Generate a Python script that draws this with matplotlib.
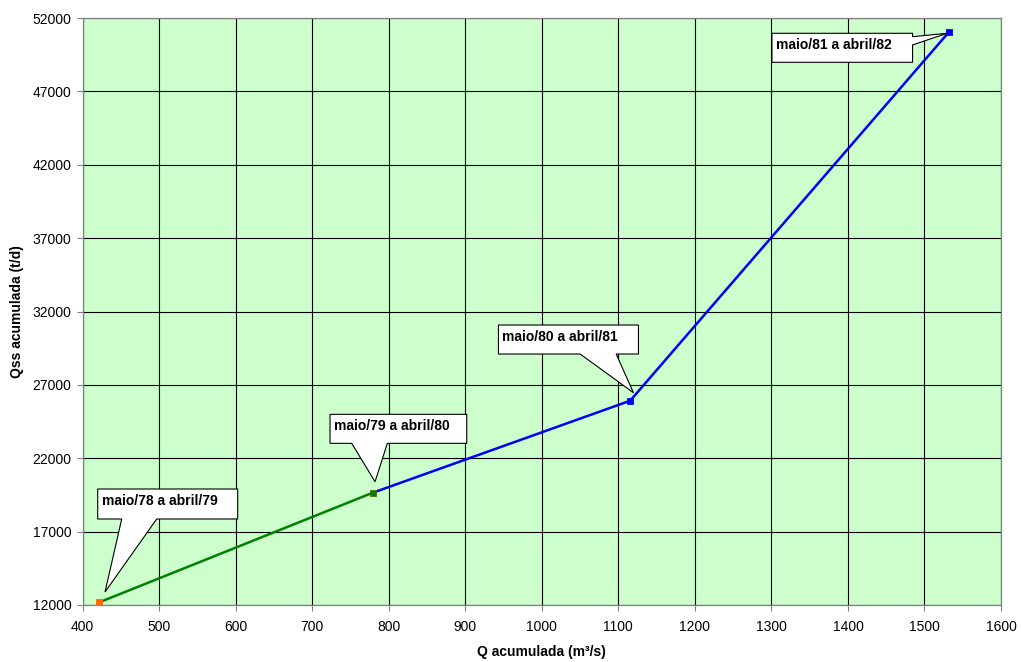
import matplotlib.pyplot as plt
import numpy as np
from matplotlib.patches import Polygon

plt.rcParams['font.family'] = ['Liberation Sans', 'DejaVu Sans']

# dados
q_acum = [421.7, 779, 1115.4, 1532]
qss_acum = [12184, 19650, 25920, 51046]
periodos = ["maio/78 a abril/79", "maio/79 a abril/80",
            "maio/80 a abril/81", "maio/81 a abril/82"]
cores_marcador = ["#FF6600", "#008000", "#0000FF", "#0000FF"]
cores_linha = ["#008000", "#0000FF", "#0000FF"]

W, H = 1021, 662
fig = plt.figure(figsize=(W / 100, H / 100), dpi=100)
ax = fig.add_axes([82.7 / W, 1 - 605 / H, (1001 - 82.7) / W, (605 - 18) / H])
ax.set_facecolor("#CCFFCC")

for i in range(len(q_acum) - 1):
    ax.plot(q_acum[i:i + 2], qss_acum[i:i + 2], color=cores_linha[i], lw=1.8, zorder=3)
for x, y, c in zip(q_acum, qss_acum, cores_marcador):
    ax.plot(x, y, marker="s", ms=5, color=c, mec=c if c != "#008000" else "#556B00",
            mew=0.6, zorder=4)

ax.set_xlim(400, 1600)
ax.set_ylim(12000, 52000)
ax.set_xticks(np.arange(400, 1601, 100))
ax.set_yticks(np.arange(12000, 52001, 5000))
ax.grid(True, color="black", lw=0.8)
ax.set_axisbelow(True)
for s in ax.spines.values():
    s.set_color("#808080")
    s.set_linewidth(0.9)
ax.tick_params(direction="out", length=4, color="#808080", labelsize=10, pad=4)
ax.tick_params(axis="x", pad=7)
ax.set_xlabel("Q acumulada (m³/s)", fontsize=10, fontweight="bold", labelpad=8)
ax.set_ylabel("Qss acumulada (t/d)", fontsize=10, fontweight="bold", labelpad=6)

# caixas de chamada (offsets em pixels, y para baixo)
callouts = [
    dict(tip=(5.7, -10.3), box=(-1.6, 138.4, -113.3, -83.3), base=("bottom", 22.4, 57.4)),
    dict(tip=(2.3, -11), box=(-42.7, 94, -78.4, -49.4), base=("bottom", -21, 14.6)),
    dict(tip=(3.3, -8), box=(-131.7, 8.3, -75.7, -46.7), base=("bottom", -50, -14)),
    dict(tip=(-2, 1.3), box=(-177, -36.4, 1.3, 30.3), base=("right", 4.7, 13)),
]

fig.canvas.draw()
for x, y, txt, co in zip(q_acum, qss_acum, periodos, callouts):
    px, py = ax.transData.transform((x, y))
    x0, x1, y0, y1 = co["box"]
    tx, ty = co["tip"]
    side, a, b = co["base"]
    if side == "bottom":
        pts = [(x0, y0), (x1, y0), (x1, y1), (b, y1), (tx, ty), (a, y1), (x0, y1)]
    else:
        pts = [(x0, y0), (x1, y0), (x1, a), (tx, ty), (x1, b), (x1, y1), (x0, y1)]
    verts = [(px + dx, py - dy) for dx, dy in pts]
    poly = Polygon(verts, closed=True, fc="white", ec="black", lw=0.8,
                   transform=None, zorder=5, clip_on=False)
    fig.add_artist(poly)
    fig.text((px + x0 + 4) / W, (py - y0 - 5) / H, txt, fontsize=10,
             fontweight="bold", ha="left", va="top", zorder=6)

fig.savefig("out.png", dpi=100)
